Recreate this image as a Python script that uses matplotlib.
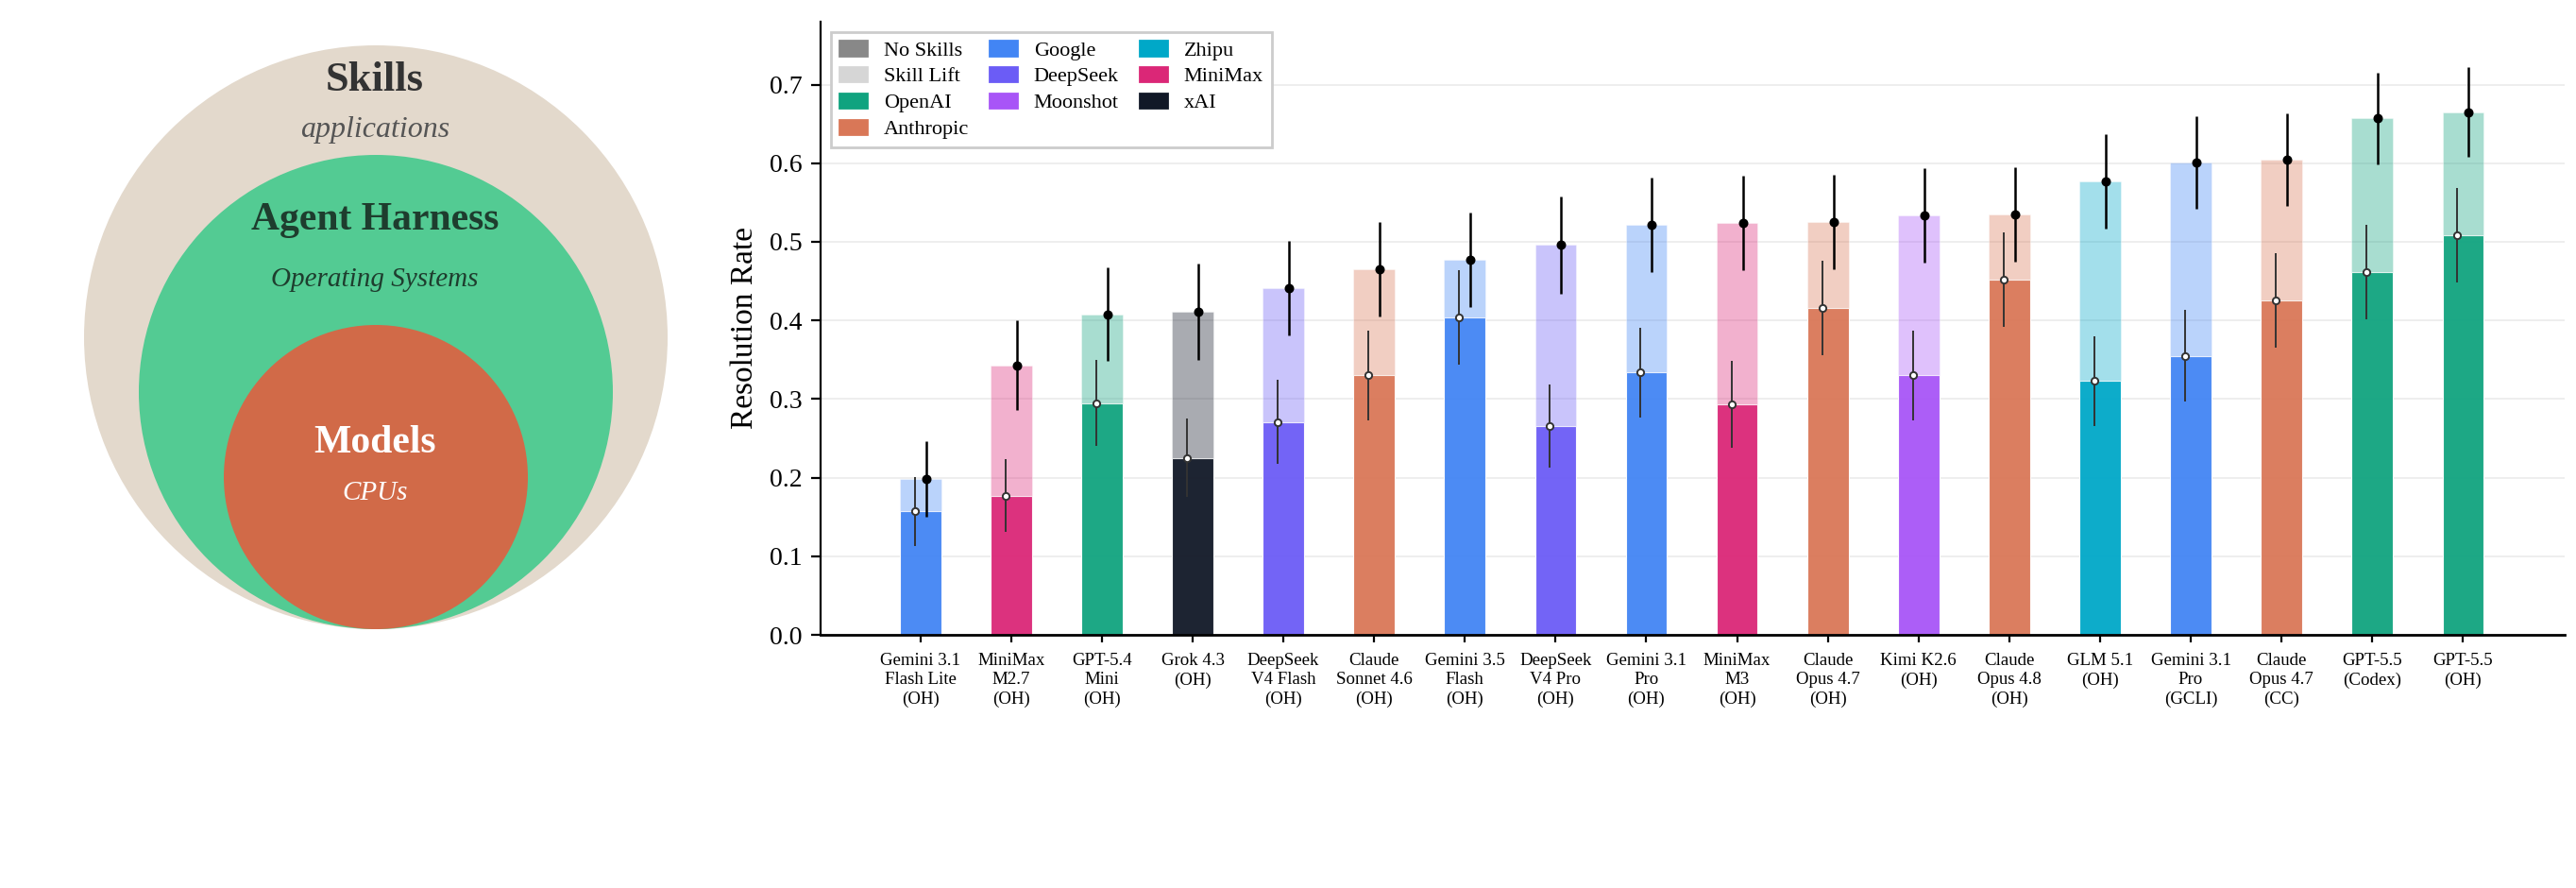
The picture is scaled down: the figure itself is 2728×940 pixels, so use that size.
import matplotlib
matplotlib.use("Agg")
import matplotlib.pyplot as plt
from matplotlib.patches import Circle, Patch
import numpy as np

plt.rcParams['font.family'] = 'serif'
plt.rcParams['font.serif'] = ['Liberation Serif', 'DejaVu Serif']

# --- data ---
labels = ["Gemini 3.1\nFlash Lite\n(OH)", "MiniMax\nM2.7\n(OH)", "GPT-5.4\nMini\n(OH)",
          "Grok 4.3\n(OH)", "DeepSeek\nV4 Flash\n(OH)", "Claude\nSonnet 4.6\n(OH)",
          "Gemini 3.5\nFlash\n(OH)", "DeepSeek\nV4 Pro\n(OH)", "Gemini 3.1\nPro\n(OH)",
          "MiniMax\nM3\n(OH)", "Claude\nOpus 4.7\n(OH)", "Kimi K2.6\n(OH)",
          "Claude\nOpus 4.8\n(OH)", "GLM 5.1\n(OH)", "Gemini 3.1\nPro\n(GCLI)",
          "Claude\nOpus 4.7\n(CC)", "GPT-5.5\n(Codex)", "GPT-5.5\n(OH)"]
vendors = ["Google", "MiniMax", "OpenAI", "xAI", "DeepSeek", "Anthropic", "Google",
           "DeepSeek", "Google", "MiniMax", "Anthropic", "Moonshot", "Anthropic",
           "Zhipu", "Google", "Anthropic", "OpenAI", "OpenAI"]
no_skills = [0.157, 0.177, 0.295, 0.225, 0.271, 0.330, 0.404, 0.266, 0.334,
             0.293, 0.416, 0.330, 0.452, 0.323, 0.355, 0.425, 0.462, 0.508]
with_skills = [0.198, 0.343, 0.408, 0.411, 0.441, 0.465, 0.477, 0.496, 0.522,
               0.524, 0.525, 0.534, 0.535, 0.577, 0.601, 0.605, 0.657, 0.665]
no_skills_ci = [0.044, 0.046, 0.055, 0.050, 0.053, 0.057, 0.060, 0.053, 0.057,
                0.055, 0.060, 0.057, 0.060, 0.057, 0.058, 0.060, 0.060, 0.060]
with_skills_ci = [0.048, 0.057, 0.059, 0.061, 0.060, 0.060, 0.060, 0.062, 0.060,
                  0.060, 0.060, 0.060, 0.060, 0.060, 0.059, 0.059, 0.058, 0.057]

vendor_colors = {
    "OpenAI": "#10A37F", "Anthropic": "#D97757", "Google": "#4285F4",
    "DeepSeek": "#6B5CF6", "Moonshot": "#A855F7", "Zhipu": "#00A8C8",
    "MiniMax": "#DB2777", "xAI": "#111827",
}

fig = plt.figure(figsize=(13.64, 4.7), dpi=200)

# --- left: nested circles, drawn in pixel units ---
ax0 = fig.add_axes([0, 0, 818 / 2728, 1])
ax0.set_xlim(0, 818)
ax0.set_ylim(940, 0)
ax0.axis('off')
ax0.add_patch(Circle((398, 357), 309, color='#E3D9CC', lw=0))
ax0.add_patch(Circle((398, 415), 251, color='#53CB93', lw=0))
ax0.add_patch(Circle((398, 505), 161, color='#D16A48', lw=0))
ax0.text(397, 85, "Skills", ha='center', va='center', fontsize=16, fontweight='bold', color='#333333')
ax0.text(397, 137, "applications", ha='center', va='center', fontsize=11.5, style='italic', color='#555555')
ax0.text(397, 233, "Agent Harness", ha='center', va='center', fontsize=15, fontweight='bold', color='#1E3D2E')
ax0.text(397, 296, "Operating Systems", ha='center', va='center', fontsize=10.5, style='italic', color='#1E3D2E')
ax0.text(397, 469, "Models", ha='center', va='center', fontsize=15, fontweight='bold', color='white')
ax0.text(397, 522, "CPUs", ha='center', va='center', fontsize=10.5, style='italic', color='white')

# --- right: bar chart ---
ax = fig.add_axes([869 / 2728, 1 - 672 / 940, (2716 - 869) / 2728, (672 - 23) / 940])
x = np.arange(len(labels))
w = 0.455
cols = [vendor_colors[v] for v in vendors]
lift = np.array(with_skills) - np.array(no_skills)

ax.bar(x, no_skills, w, color=cols, alpha=0.95, edgecolor='white', linewidth=0.4, zorder=2)
ax.bar(x, lift, w, bottom=no_skills, color=cols, alpha=0.36, edgecolor='white', linewidth=0.4, zorder=2)

off = 0.0625
ax.errorbar(x - off, no_skills, yerr=no_skills_ci, fmt='o', ms=2.6, mfc='white', mec='#333333',
            mew=0.7, ecolor='#333333', elinewidth=0.7, capsize=0, zorder=4)
ax.errorbar(x + off, with_skills, yerr=with_skills_ci, fmt='o', ms=2.6, color='black',
            ecolor='black', elinewidth=0.9, capsize=0, zorder=4)

ax.set_xlim(-1.1, 18.12)
ax.set_ylim(0, 0.78)
ax.set_yticks(np.arange(0, 0.75, 0.1))
ax.set_yticklabels([f"{v:.1f}" for v in np.arange(0, 0.75, 0.1)], fontsize=10)
ax.set_xticks(x)
ax.set_xticklabels(labels, fontsize=6.8, linespacing=1.25)
ax.tick_params(axis='x', length=3, pad=3.8)
ax.set_ylabel("Resolution Rate", fontsize=12)
ax.grid(axis='y', color='#EBEBEB', linewidth=0.6)
ax.set_axisbelow(True)
ax.spines['top'].set_visible(False)
ax.spines['right'].set_visible(False)
ax.spines['bottom'].set_linewidth(1.0)
ax.spines['left'].set_linewidth(0.8)

handles = [Patch(color='#888888', label='No Skills'),
           Patch(color='#D6D6D6', label='Skill Lift')]
handles += [Patch(color=c, label=v) for v, c in vendor_colors.items()]
ax.legend(handles=handles, loc='upper left', ncol=3, fontsize=8, handlelength=1.3,
          labelspacing=0.33, columnspacing=1.0, fancybox=False, edgecolor='#CCCCCC',
          framealpha=1)

fig.savefig("out.png", dpi=200)
